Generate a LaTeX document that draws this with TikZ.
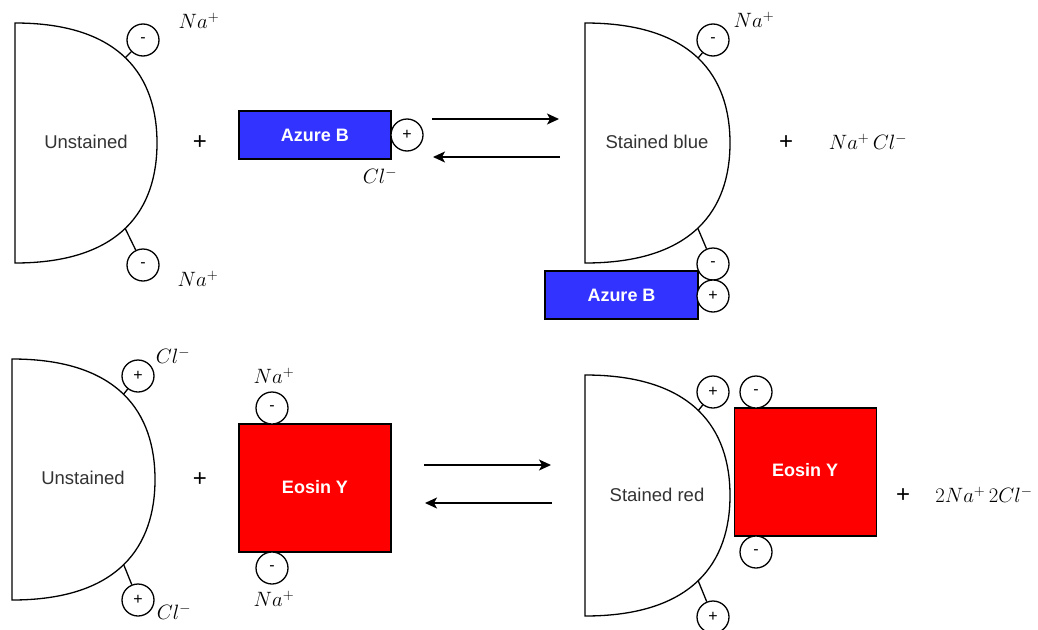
\documentclass[tikz,border=0pt]{standalone}
\usepackage{fontspec}
\newfontfamily\labelfont{Liberation Sans}
\usetikzlibrary{arrows.meta}
\definecolor{azure}{HTML}{3333FF}
\definecolor{eosin}{HTML}{FF0000}
\definecolor{labelgray}{HTML}{333333}

\pgfdeclarelayer{wires}
\pgfsetlayers{wires,main}

\tikzset{
  cell/.style={draw=black, line width=1.3pt, fill=white},
  charge/.style={circle, draw=black, line width=1.3pt, fill=white,
    minimum size=32pt, inner sep=0pt,
    font=\labelfont\fontsize{16}{18}\selectfont},
  celltext/.style={font=\labelfont\fontsize{18.5}{22}\selectfont, text=labelgray},
  dye/.style={draw=black, line width=1.3pt, inner sep=0pt, text=white,
    font=\labelfont\bfseries\fontsize{18}{22}\selectfont},
  ion/.style={font=\fontsize{22}{26}\selectfont, inner sep=0pt},
  plus/.style={font=\labelfont\fontsize{24}{28}\selectfont, inner sep=0pt},
  stub/.style={line width=1.3pt},
  reaction/.style={line width=1.3pt, -{Stealth[length=12pt,width=11pt,inset=3pt]}},
}

% D-shaped cell body (flat left side, rounded right side): left, top, right, bottom
\newcommand\cellbody[4]{%
  \pgfmathsetmacro\cbx{#1+0.75*(#3-#1)}%
  \pgfmathsetmacro\cbm{(#2+#4)/2}%
  \pgfmathsetmacro\cbu{\cbm-0.275*(#4-#2)}%
  \pgfmathsetmacro\cbd{\cbm+0.275*(#4-#2)}%
  \draw[cell] (#1,#2) .. controls (\cbx,#2) and (#3,\cbu) .. (#3,\cbm)
    .. controls (#3,\cbd) and (\cbx,#4) .. (#1,#4) -- cycle;%
}

\begin{document}
\begin{tikzpicture}[x=1pt, y=-1pt]
\useasboundingbox (0,0) rectangle (1038,629);

% ---------- Azure B (basic dye) ----------
\cellbody{15}{23}{157}{263}
\node[celltext] (u1) at (86,142) {Unstained};
\coordinate (u1top) at (122,61);
\coordinate (u1bot) at (124,226);
\node[charge] (u1a) at (143,40) {-};
\node[charge] (u1b) at (143,265) {-};
\begin{pgfonlayer}{wires}
  \draw[stub] (u1top) -- (u1a);
  \draw[stub] (u1bot) -- (u1b);
\end{pgfonlayer}
\node[ion] (na1) at (199,21) {$Na^+$};
\node[ion] (na2) at (198,279) {$Na^+$};

\node[plus] (p1) at (200,143) {+};

\node[dye, fill=azure, minimum width=152pt, minimum height=48pt] (az1) at (315,135) {Azure B};
\node[charge] (az1c) at (407,135) {+};
\node[ion] (cl1) at (380,176) {$Cl^-$};

\coordinate (r1a) at (432,119);
\coordinate (r1b) at (559,119);
\coordinate (r1c) at (560,157);
\coordinate (r1d) at (433,157);
\draw[reaction] (r1a) -- (r1b);
\draw[reaction] (r1c) -- (r1d);

\cellbody{585}{23}{730}{263}
\node[celltext] (s1) at (657,142) {Stained blue};
\coordinate (s1top) at (694,63);
\coordinate (s1bot) at (696,224);
\node[charge] (s1a) at (713,40) {-};
\node[ion] (na3) at (754,20) {$Na^+$};
\node[dye, fill=azure, minimum width=153pt, minimum height=48pt] (az2) at (621.5,295) {Azure B};
\node[charge] (s1b) at (713,264) {-};
\node[charge] (az2c) at (713,296) {+};
\begin{pgfonlayer}{wires}
  \draw[stub] (s1top) -- (s1a);
  \draw[stub] (s1bot) -- (s1b);
\end{pgfonlayer}

\node[plus] (p2) at (786,143) {+};
\node[ion] (salt1) at (868,142) {$Na^+\,Cl^-$};

% ---------- Eosin Y (acidic dye) ----------
\cellbody{12}{359}{155}{600}
\node[celltext] (u2) at (83,478) {Unstained};
\coordinate (u2top) at (119,400);
\coordinate (u2bot) at (121,558);
\node[charge] (u2a) at (138,376) {+};
\node[charge] (u2b) at (138,600) {+};
\begin{pgfonlayer}{wires}
  \draw[stub] (u2top) -- (u2a);
  \draw[stub] (u2bot) -- (u2b);
\end{pgfonlayer}
\node[ion] (cl2) at (173,356) {$Cl^-$};
\node[ion] (cl3) at (174,612) {$Cl^-$};

\node[plus] (p3) at (200,480) {+};

\node[dye, fill=eosin, minimum width=152pt, minimum height=128pt] (eo1) at (315,488) {};
\node[dye, draw=none] (eo1t) at (315,487) {Eosin Y};
\node[charge] (eo1a) at (272,408) {-};
\node[charge] (eo1b) at (272,568) {-};
\node[ion] (na4) at (274,376) {$Na^+$};
\node[ion] (na5) at (274,599) {$Na^+$};

\coordinate (r2a) at (424,465);
\coordinate (r2b) at (551,465);
\coordinate (r2c) at (552,503);
\coordinate (r2d) at (425,503);
\draw[reaction] (r2a) -- (r2b);
\draw[reaction] (r2c) -- (r2d);

\cellbody{585}{375}{730}{616}
\node[celltext] (s2) at (657,495) {Stained red};
\coordinate (s2top) at (694,416);
\coordinate (s2bot) at (695,573);
\node[charge] (s2a) at (713,392) {+};
\node[charge] (s2b) at (713,617) {+};
\begin{pgfonlayer}{wires}
  \draw[stub] (s2top) -- (s2a);
  \draw[stub] (s2bot) -- (s2b);
\end{pgfonlayer}
\node[dye, fill=eosin, minimum width=142pt, minimum height=128pt] (eo2) at (805.5,472) {};
\node[dye, draw=none] (eo2t) at (805,470) {Eosin Y};
\node[charge] (eo2a) at (756,392) {-};
\node[charge] (eo2b) at (756,552) {-};

\node[plus] (p4) at (903,496) {+};
\node[ion] (salt2) at (984,495) {$2Na^+\,2Cl^-$};
\end{tikzpicture}
\end{document}
